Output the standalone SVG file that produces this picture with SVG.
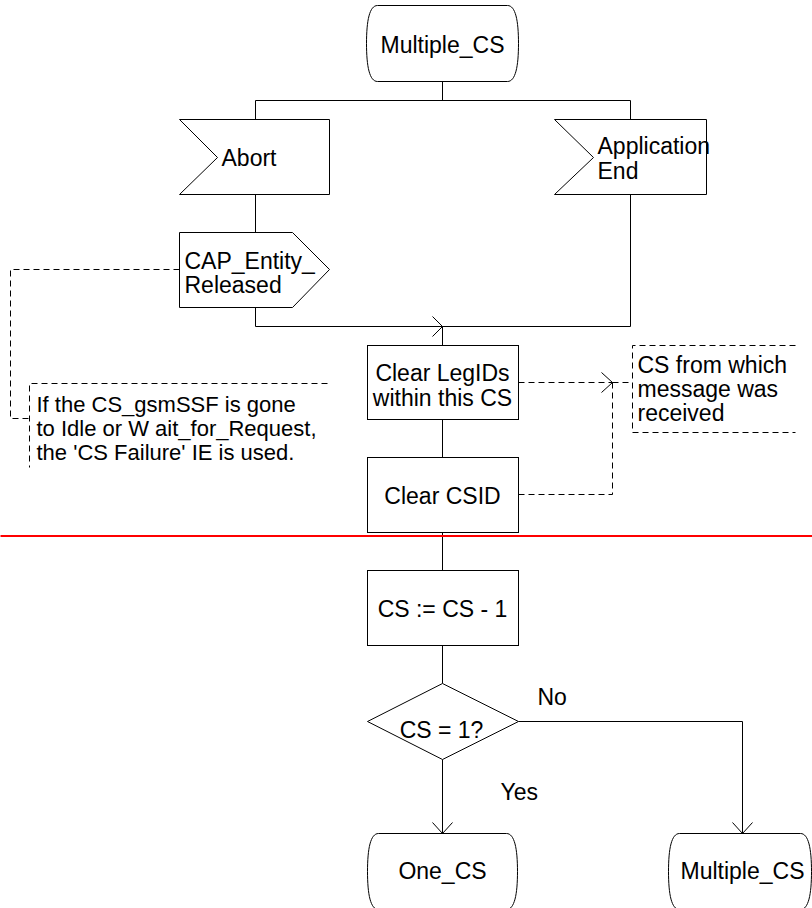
<svg xmlns="http://www.w3.org/2000/svg" width="812" height="908" viewBox="0 0 812 908">
<style>
  .s { fill: #ffffff; stroke: #000000; stroke-width: 1; }
  .t { font-family: "Liberation Sans", Arial, sans-serif; font-size: 23px; fill: #000000; }
  .n { font-size: 22px; }
  .c { text-anchor: middle; }
  .ln { fill: none; stroke: #000000; stroke-width: 1; }
  .d { fill: none; stroke: #000000; stroke-width: 1; stroke-dasharray: 6 4; }
  .red { stroke: #ff0000; stroke-width: 2; }
</style>
<rect x="0" y="0" width="812" height="908" fill="#ffffff"/>
<g transform="translate(0.5,0.5)">
<g id="connectors">
  <path class="ln" d="M442,81 V100"/>
  <path class="ln" d="M255,100 H630"/>
  <path class="ln" d="M255,100 V119"/>
  <path class="ln" d="M255,194 V232"/>
  <path class="ln" d="M255,307 V326 H442"/>
  <path class="ln" d="M432,316 L442,326 L432,336"/>
  <path class="ln" d="M630,100 V119"/>
  <path class="ln" d="M630,194 V326 H442"/>
  <path class="ln" d="M442,326 V345"/>
  <path class="ln" d="M442,419 V457"/>
  <path class="ln" d="M442,532 V570"/>
  <path class="ln" d="M442,645 V683"/>
  <path class="ln" d="M442,759 V833"/>
  <path class="ln" d="M432,822 L442,833 L452,822"/>
  <path class="ln" d="M518,721 H742 V833"/>
  <path class="ln" d="M732,822 L742,833 L752,822"/>
  <path class="d" d="M179,269 H10 V418 H29"/>
  <path class="d" d="M518,382 H612"/>
  <path class="d" d="M518,494 H612 V382"/>
  <path class="ln" d="M601,372 L612,382 L601,392"/>
  <path class="d" d="M612,382 H632"/>
</g>
<line x1="0" y1="535.5" x2="812" y2="535.5" class="red"/>
<g id="state_multiple_top">
  <path class="s" d="M377,5 H507 C515,5 518,20 518,43 C518,66 515,81 507,81 H377 C369,81 366,66 366,43 C366,20 369,5 377,5 Z"/>
  <text class="t c" x="442" y="52">Multiple_CS</text>
</g>
<g id="input_abort">
  <polygon class="s" points="179,119 329,119 329,194 179,194 217,157"/>
  <text class="t" x="221" y="165">Abort</text>
</g>
<g id="input_application_end">
  <polygon class="s" points="554,119 706,119 706,194 554,194 593,157"/>
  <text class="t" x="597" y="153">Application</text>
  <text class="t" x="597" y="178">End</text>
</g>
<g id="output_cap_entity_released">
  <polygon class="s" points="179,232 292,232 329,269 292,307 179,307"/>
  <text class="t" x="184" y="268">CAP_Entity_</text>
  <text class="t" x="184" y="292">Released</text>
</g>
<g id="task_clear_legids">
  <rect class="s" x="367" y="345" width="151" height="74"/>
  <text class="t c" x="442" y="380">Clear LegIDs</text>
  <text class="t c" x="442" y="405">within this CS</text>
</g>
<g id="task_clear_csid">
  <rect class="s" x="367" y="457" width="151" height="75"/>
  <text class="t c" x="442" y="503">Clear CSID</text>
</g>
<g id="task_cs_decrement">
  <rect class="s" x="367" y="570" width="151" height="75"/>
  <text class="t c" x="442" y="616">CS := CS - 1</text>
</g>
<g id="decision_cs1">
  <polygon class="s" points="442,683 518,721 442,759 367,721"/>
  <text class="t c" x="441" y="737">CS = 1?</text>
</g>
<g id="label_no">
  <text class="t" x="537" y="704">No</text>
</g>
<g id="label_yes">
  <text class="t" x="500" y="799">Yes</text>
</g>
<g id="state_one_cs">
  <path class="s" d="M378,833 H506 C514,833 517,848 517,871 C517,894 514,909 506,909 H378 C370,909 367,894 367,871 C367,848 370,833 378,833 Z"/>
  <text class="t c" x="442" y="878">One_CS</text>
</g>
<g id="state_multiple_bottom">
  <path class="s" d="M679,833 H800 C808,833 811,848 811,871 C811,894 808,909 800,909 H679 C671,909 668,894 668,871 C668,848 671,833 679,833 Z"/>
  <text class="t c" x="742" y="878">Multiple_CS</text>
</g>
<g id="comment_left">
  <path class="d" d="M327,383 H29 V467"/>
  <text class="t n" x="36" y="411">If the CS_gsmSSF is gone</text>
  <text class="t n" x="36" y="435">to Idle or W ait_for_Request,</text>
  <text class="t n" x="36" y="459">the 'CS Failure' IE is used.</text>
</g>
<g id="comment_right">
  <path class="d" d="M795,345 H632 V432 H795"/>
  <text class="t" x="637" y="372">CS from which</text>
  <text class="t" x="637" y="396">message was</text>
  <text class="t" x="637" y="420">received</text>
</g>
</g>
</svg>
